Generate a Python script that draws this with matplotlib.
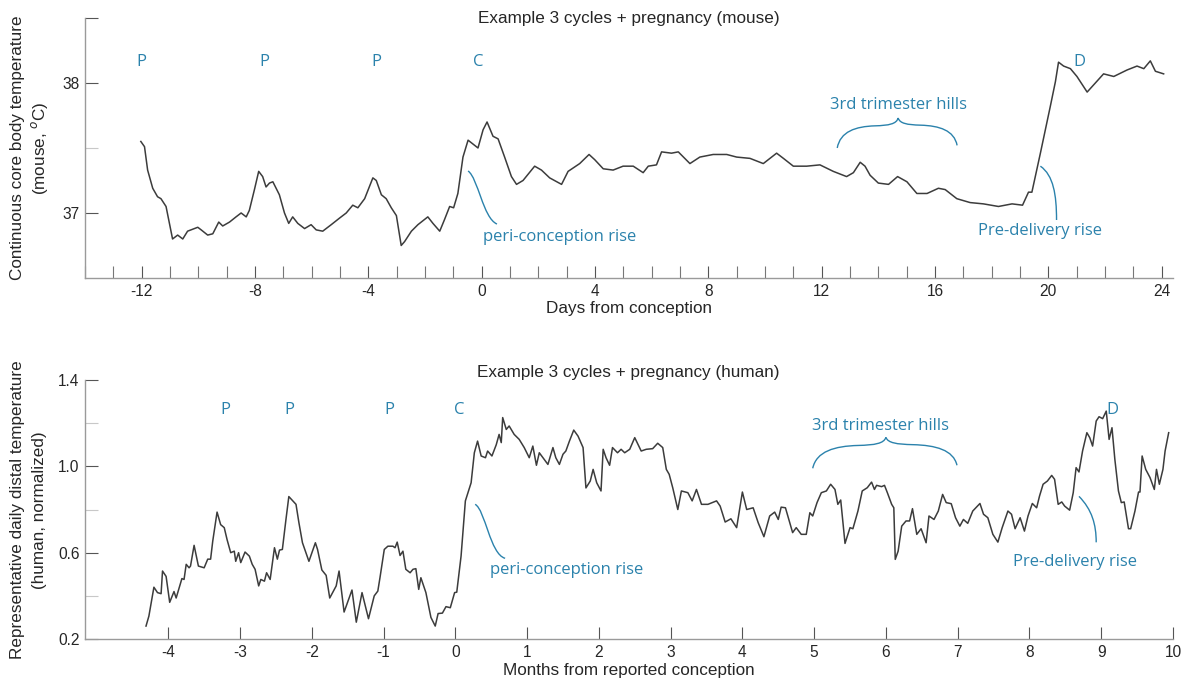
import matplotlib
matplotlib.use('Agg')
import matplotlib.pyplot as plt
from matplotlib.path import Path
from matplotlib.patches import PathPatch

plt.rcParams['axes.unicode_minus'] = False

# ---------------- data ----------------
mouse_day = [-12.03, -11.9, -11.79, -11.61, -11.44, -11.32, -11.14, -11.02, -10.91, -10.73,
             -10.55, -10.38, -10.02, -9.9, -9.67, -9.49, -9.28, -9.14, -8.9, -8.67,
             -8.49, -8.31, -8.2, -8.02, -7.87, -7.73, -7.61, -7.49, -7.37, -7.14,
             -6.96, -6.81, -6.67, -6.49, -6.25, -6.02, -5.84, -5.61, -5.31, -5.02,
             -4.78, -4.55, -4.37, -4.13, -3.84, -3.72, -3.54, -3.37, -3.19, -3.01,
             -2.84, -2.72, -2.48, -2.25, -1.9, -1.72, -1.48, -1.31, -1.13, -0.99,
             -0.84, -0.66, -0.48, -0.13, 0.05, 0.19, 0.4, 0.58, 0.81, 1.05,
             1.23, 1.46, 1.87, 2.11, 2.4, 2.82, 3.05, 3.46, 3.79, 3.99,
             4.29, 4.64, 4.99, 5.35, 5.70, 5.88, 6.17, 6.35, 6.70, 6.94,
             7.35, 7.70, 8.17, 8.65, 9.0, 9.47, 9.94, 10.41, 10.65, 11.0,
             11.47, 11.94, 12.41, 12.88, 13.12, 13.36, 13.53, 13.71, 14.0, 14.36,
             14.68, 15.01, 15.36, 15.72, 16.12, 16.36, 16.77, 17.24, 17.71, 18.24,
             18.72, 19.09, 19.30, 19.42, 19.72, 20.07, 20.25, 20.36, 20.54, 20.78,
             21.01, 21.37, 21.66, 21.95, 22.31, 22.78, 23.13, 23.37, 23.60, 23.78,
             24.07]
mouse_temp = [37.55, 37.51, 37.33, 37.19, 37.125, 37.11, 37.05, 36.92, 36.80, 36.83,
              36.80, 36.86, 36.89, 36.87, 36.83, 36.84, 36.93, 36.90, 36.93, 36.97,
              37.0, 36.97, 37.02, 37.18, 37.32, 37.28, 37.20, 37.23, 37.24, 37.14,
              37.0, 36.92, 36.97, 36.92, 36.88, 36.91, 36.87, 36.86, 36.91, 36.96,
              37.0, 37.06, 37.04, 37.11, 37.27, 37.25, 37.14, 37.11, 37.04, 36.98,
              36.75, 36.78, 36.86, 36.91, 36.97, 36.92, 36.86, 36.95, 37.05, 37.04,
              37.15, 37.43, 37.56, 37.50, 37.64, 37.70, 37.59, 37.57, 37.43, 37.28,
              37.22, 37.25, 37.36, 37.33, 37.27, 37.22, 37.32, 37.38, 37.45, 37.41,
              37.34, 37.33, 37.36, 37.36, 37.31, 37.36, 37.37, 37.47, 37.46, 37.47,
              37.38, 37.43, 37.45, 37.45, 37.43, 37.42, 37.38, 37.46, 37.42, 37.36,
              37.36, 37.37, 37.32, 37.28, 37.31, 37.39, 37.36, 37.29, 37.23, 37.22,
              37.28, 37.24, 37.15, 37.15, 37.19, 37.18, 37.11, 37.08, 37.07, 37.05,
              37.07, 37.06, 37.16, 37.16, 37.46, 37.82, 38.01, 38.16, 38.13, 38.11,
              38.05, 37.93, 38.0, 38.07, 38.05, 38.10, 38.13, 38.11, 38.17, 38.09,
              38.07]

human_month = [-4.31, -4.27, -4.2, -4.15, -4.10, -4.08, -4.03, -3.98, -3.92, -3.89,
               -3.81, -3.78, -3.75, -3.71, -3.69, -3.64, -3.58, -3.50, -3.45, -3.41,
               -3.38, -3.32, -3.27, -3.22, -3.18, -3.13, -3.08, -3.06, -3.02, -2.99,
               -2.93, -2.87, -2.83, -2.79, -2.74, -2.71, -2.66, -2.63, -2.58, -2.52,
               -2.48, -2.45, -2.41, -2.36, -2.32, -2.22, -2.18, -2.13, -2.04, -1.95,
               -1.92, -1.86, -1.80, -1.75, -1.66, -1.62, -1.55, -1.44, -1.38, -1.30,
               -1.21, -1.13, -1.08, -1.05, -0.99, -0.94, -0.87, -0.84, -0.81, -0.77,
               -0.73, -0.69, -0.63, -0.59, -0.55, -0.51, -0.48, -0.41, -0.34, -0.28,
               -0.24, -0.18, -0.13, -0.07, -0.01, 0.02, 0.08, 0.14, 0.22, 0.265,
               0.31, 0.36, 0.42, 0.45, 0.51, 0.57, 0.61, 0.64, 0.66, 0.71,
               0.75, 0.82, 0.89, 0.96, 1.03, 1.08, 1.13, 1.17, 1.24, 1.29,
               1.36, 1.40, 1.45, 1.50, 1.54, 1.59, 1.65, 1.71, 1.78, 1.82,
               1.88, 1.92, 1.97, 2.03, 2.06, 2.10, 2.15, 2.19, 2.26, 2.31,
               2.36, 2.43, 2.50, 2.59, 2.66, 2.75, 2.82, 2.89, 2.94, 2.98,
               3.03, 3.10, 3.15, 3.24, 3.30, 3.36, 3.43, 3.52, 3.64, 3.69,
               3.76, 3.84, 3.92, 4.0, 4.06, 4.15, 4.22, 4.30, 4.38, 4.45,
               4.50, 4.54, 4.60, 4.70, 4.75, 4.82, 4.89, 4.94, 4.98, 5.04,
               5.10, 5.17, 5.23, 5.29, 5.33, 5.37, 5.43, 5.50, 5.54, 5.61,
               5.67, 5.74, 5.80, 5.84, 5.87, 5.94, 5.98, 6.02, 6.08, 6.11,
               6.13, 6.17, 6.22, 6.28, 6.33, 6.37, 6.43, 6.49, 6.56, 6.60,
               6.67, 6.73, 6.79, 6.84, 6.91, 6.97, 7.03, 7.08, 7.14, 7.21,
               7.31, 7.36, 7.42, 7.49, 7.56, 7.62, 7.70, 7.75, 7.80, 7.87,
               7.93, 7.98, 8.04, 8.10, 8.14, 8.19, 8.25, 8.31, 8.35, 8.40,
               8.45, 8.49, 8.56, 8.61, 8.65, 8.69, 8.74, 8.80, 8.84, 8.88,
               8.93, 8.97, 9.02, 9.07, 9.11, 9.15, 9.19, 9.24, 9.28, 9.32,
               9.38, 9.41, 9.47, 9.52, 9.54, 9.57, 9.62, 9.68, 9.74, 9.77,
               9.81, 9.86, 9.89, 9.94]
human_val = [0.26, 0.306, 0.44, 0.415, 0.41, 0.515, 0.49, 0.37, 0.42, 0.39,
             0.48, 0.476, 0.546, 0.53, 0.538, 0.634, 0.538, 0.53, 0.57, 0.57,
             0.654, 0.788, 0.73, 0.716, 0.66, 0.60, 0.607, 0.56, 0.60, 0.554,
             0.603, 0.584, 0.546, 0.523, 0.446, 0.476, 0.468, 0.507, 0.476, 0.623,
             0.57, 0.612, 0.615, 0.754, 0.86, 0.824, 0.74, 0.646, 0.56, 0.646,
             0.615, 0.52, 0.495, 0.39, 0.446, 0.515, 0.325, 0.427, 0.278, 0.415,
             0.294, 0.40, 0.422, 0.484, 0.615, 0.63, 0.63, 0.623, 0.649, 0.587,
             0.607, 0.523, 0.507, 0.523, 0.526, 0.43, 0.484, 0.415, 0.30, 0.26,
             0.318, 0.32, 0.35, 0.345, 0.415, 0.417, 0.584, 0.84, 0.924, 1.063,
             1.117, 1.048, 1.04, 1.071, 1.048, 1.10, 1.148, 1.11, 1.226, 1.171,
             1.187, 1.148, 1.125, 1.087, 1.04, 1.094, 1.005, 1.063, 1.032, 1.009,
             1.087, 1.04, 1.009, 1.056, 1.071, 1.117, 1.168, 1.14, 1.087, 0.90,
             0.932, 0.986, 0.924, 0.886, 1.079, 1.04, 1.005, 1.087, 1.063, 1.079,
             1.063, 1.079, 1.133, 1.071, 1.079, 1.082, 1.107, 1.087, 0.986, 0.963,
             0.90, 0.80, 0.886, 0.878, 0.84, 0.893, 0.824, 0.824, 0.84, 0.816,
             0.742, 0.757, 0.716, 0.881, 0.80, 0.808, 0.739, 0.674, 0.77, 0.788,
             0.754, 0.811, 0.808, 0.693, 0.716, 0.685, 0.685, 0.785, 0.77, 0.832,
             0.878, 0.886, 0.917, 0.893, 0.824, 0.844, 0.643, 0.716, 0.711, 0.793,
             0.886, 0.901, 0.927, 0.893, 0.912, 0.906, 0.912, 0.878, 0.824, 0.808,
             0.569, 0.607, 0.723, 0.747, 0.747, 0.804, 0.685, 0.711, 0.646, 0.77,
             0.754, 0.793, 0.87, 0.832, 0.827, 0.762, 0.723, 0.754, 0.736, 0.793,
             0.828, 0.778, 0.762, 0.685, 0.649, 0.716, 0.793, 0.778, 0.711, 0.762,
             0.70, 0.77, 0.828, 0.808, 0.862, 0.917, 0.932, 0.958, 0.94, 0.824,
             0.835, 0.816, 0.797, 0.878, 0.994, 0.974, 1.071, 1.156, 1.133, 1.094,
             1.21, 1.23, 1.221, 1.256, 1.125, 1.179, 1.032, 0.886, 0.832, 0.835,
             0.711, 0.711, 0.793, 0.881, 0.881, 1.048, 0.986, 0.948, 0.893, 0.986,
             0.917, 0.986, 1.071, 1.156]

mouse_xticks = [-12, -8, -4, 0, 4, 8, 12, 16, 20, 24]
mouse_yticks = [37, 38]
human_xticks = [-4, -3, -2, -1, 0, 1, 2, 3, 4, 5, 6, 7, 8, 9, 10]
human_yticks = [0.2, 0.6, 1.0, 1.4]
human_yticklabels = ['0.2', '0.6', '1.0', '1.4']

mouse_marks = ['P', 'P', 'P', 'C', 'D']
mouse_mark_x = [-12.0, -7.68, -3.7, -0.13, 21.08]
human_marks = ['P', 'P', 'P', 'C', 'D']
human_mark_x = [-3.21, -2.315, -0.92, 0.05, 9.16]

# ---------------- style ----------------
LINE = '#3c3c3c'
ANN = '#2b82ac'
SPINE = '#9a9a9a'
TXT = '#262626'
AXFONT = 'Liberation Sans'
ANNFONT = 'Open Sans'
LABSIZE = 12.3
TICKSIZE = 11.2
ANNSIZE = 12

fig = plt.figure(figsize=(11.84, 6.78), dpi=100)
ax1 = fig.add_axes([0.0718, 0.590, 0.9189, 0.3835])
ax2 = fig.add_axes([0.0718, 0.0575, 0.9189, 0.382])


def style(ax):
    for s in ('top', 'right'):
        ax.spines[s].set_visible(False)
    for s in ('left', 'bottom'):
        ax.spines[s].set_color(SPINE)
        ax.spines[s].set_linewidth(1.0)
    ax.tick_params(which='major', direction='in', length=9, width=0.8, color='#555555',
                   labelsize=TICKSIZE, labelcolor=TXT, pad=4)
    ax.tick_params(which='minor', direction='in', length=9, width=0.8, color='#c8c8c8')
    for lab in ax.get_xticklabels() + ax.get_yticklabels():
        lab.set_fontfamily(AXFONT)


def bez(ax, pts, lw=1.0):
    codes = [Path.MOVETO] + [Path.CURVE4] * (len(pts) - 1)
    ax.add_patch(PathPatch(Path(pts, codes), fill=False, edgecolor=ANN, lw=lw,
                           clip_on=False))


def brace(ax, left, cusp, right):
    x0, y0 = left
    xc, yc = cusp
    x1, y1 = right
    wl = xc - x0
    wr = x1 - xc
    hl = yc - y0
    hr = yc - y1
    L = lambda u, v: (x0 + u * wl, y0 + v * hl)
    R = lambda u, v: (xc + u * wr, y1 + v * hr)
    pts = [L(0, 0), L(0.05, 0.55), L(0.3, 0.72), L(0.62, 0.74),
           L(0.85, 0.755), L(0.97, 0.8), L(1, 1),
           R(0.03, 0.8), R(0.15, 0.755), R(0.38, 0.74),
           R(0.7, 0.72), R(0.95, 0.55), R(1, 0)]
    bez(ax, pts)


# ---------------- top: mouse ----------------
ax1.plot(mouse_day, mouse_temp, color=LINE, lw=1.1)
ax1.set_xlim(-14.0, 24.4)
ax1.set_ylim(36.5, 38.5)
ax1.set_xticks(mouse_xticks)
ax1.set_xticks(range(-14, 25), minor=True)
ax1.set_yticks([37, 38, 38.5])
ax1.set_yticklabels(['37', '38', ''])
ax1.set_yticks([37.5], minor=True)
style(ax1)
ax1.tick_params(axis='x', which='minor', color='#777777', length=9)

for m, x in zip(mouse_marks, mouse_mark_x):
    ax1.text(x, 38.16, m, color=ANN, fontsize=ANNSIZE, family=ANNFONT, ha='center', va='center')
ax1.text(14.7, 37.83, '3rd trimester hills', color=ANN, fontsize=ANNSIZE, family=ANNFONT,
         ha='center', va='center')
brace(ax1, (12.55, 37.50), (14.70, 37.73), (16.78, 37.52))
ax1.text(0.04, 36.815, 'peri-conception rise', color=ANN, fontsize=ANNSIZE, family=ANNFONT,
         ha='left', va='center')
bez(ax1, [(-0.48, 37.323), (-0.13, 37.27), (0.05, 36.96), (0.54, 36.915)])
ax1.text(19.72, 36.86, 'Pre-delivery rise', color=ANN, fontsize=ANNSIZE, family=ANNFONT,
         ha='center', va='center')
bez(ax1, [(19.72, 37.36), (20.18, 37.29), (20.29, 37.14), (20.29, 36.946)])

# ---------------- bottom: human ----------------
ax2.plot(human_month, human_val, color=LINE, lw=1.1)
ax2.set_xlim(-5.16, 10.0)
ax2.set_ylim(0.2, 1.4)
ax2.set_xticks(human_xticks)
ax2.set_yticks(human_yticks)
ax2.set_yticklabels(human_yticklabels)
ax2.set_yticks([0.4, 0.8, 1.2], minor=True)
style(ax2)

for m, x in zip(human_marks, human_mark_x):
    ax2.text(x, 1.26, m, color=ANN, fontsize=ANNSIZE, family=ANNFONT, ha='center', va='center')
ax2.text(5.93, 1.185, '3rd trimester hills', color=ANN, fontsize=ANNSIZE, family=ANNFONT,
         ha='center', va='center')
brace(ax2, (4.98, 0.991), (6.0, 1.134), (6.99, 1.005))
ax2.text(0.485, 0.518, 'peri-conception rise', color=ANN, fontsize=ANNSIZE, family=ANNFONT,
         ha='left', va='center')
bez(ax2, [(0.276, 0.824), (0.415, 0.80), (0.485, 0.592), (0.694, 0.574)])
ax2.text(8.63, 0.555, 'Pre-delivery rise', color=ANN, fontsize=ANNSIZE, family=ANNFONT,
         ha='center', va='center')
bez(ax2, [(8.69, 0.861), (8.87, 0.80), (8.93, 0.731), (8.93, 0.648)])

# ---------------- labels ----------------
fig.text(0.531, 1 - 18 / 678, 'Example 3 cycles + pregnancy (mouse)', fontsize=LABSIZE,
         family=AXFONT, color=TXT, ha='center', va='center')
fig.text(0.531, 1 - 373 / 678, 'Example 3 cycles + pregnancy (human)', fontsize=LABSIZE,
         family=AXFONT, color=TXT, ha='center', va='center')
fig.text(0.531, 1 - 309 / 678, 'Days from conception', fontsize=LABSIZE,
         family=AXFONT, color=TXT, ha='center', va='center')
fig.text(0.531, 1 - 670 / 678, 'Months from reported conception', fontsize=LABSIZE,
         family=AXFONT, color=TXT, ha='center', va='center')
fig.text(18 / 1184, 1 - 148 / 678, 'Continuous core body temperature', fontsize=LABSIZE,
         family=AXFONT, color=TXT, ha='center', va='center', rotation=90)
fig.text(40 / 1184, 1 - 148 / 678, '(mouse, $^o$C)', fontsize=LABSIZE,
         family=AXFONT, color=TXT, ha='center', va='center', rotation=90)
fig.text(18 / 1184, 1 - 510 / 678, 'Representative daily distal temperature', fontsize=LABSIZE,
         family=AXFONT, color=TXT, ha='center', va='center', rotation=90)
fig.text(40 / 1184, 1 - 510 / 678, '(human, normalized)', fontsize=LABSIZE,
         family=AXFONT, color=TXT, ha='center', va='center', rotation=90)

fig.savefig('out.png', dpi=100)
